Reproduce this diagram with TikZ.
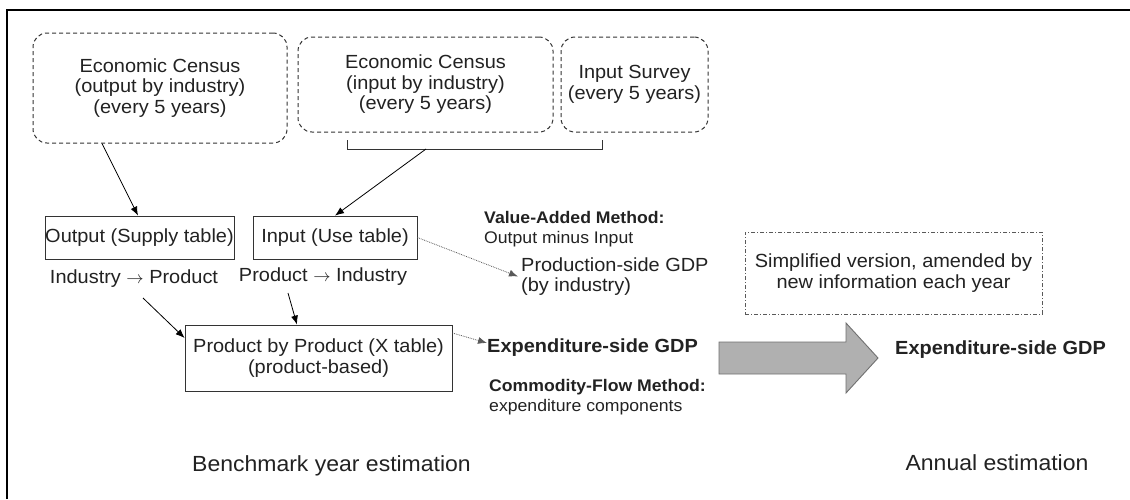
\documentclass[tikz,border=0pt]{standalone}
\usepackage{fontspec}
\setmainfont{Liberation Sans}[FakeStretch=1.05]
\usetikzlibrary{arrows.meta,calc}
\definecolor{txt}{HTML}{222222}
\definecolor{arrowfill}{HTML}{B0B0B0}
\definecolor{arrowline}{HTML}{707070}
\tikzset{
  mainfont/.style={font=\fontsize{19}{20.5}\selectfont},
  smallfont/.style={font=\fontsize{16.8}{20}\selectfont},
  bigfont/.style={font=\fontsize{21.9}{24}\selectfont},
  dbox/.style={draw=black!80, line width=1pt, dash pattern=on 4pt off 3pt,
    rounded corners=14pt, align=center, mainfont, text=txt, inner sep=0pt},
  sbox/.style={draw=black!80, line width=0.8pt, align=center, mainfont, text=txt, inner sep=0pt},
  ddbox/.style={draw=black!65, line width=0.7pt, dash pattern=on 4pt off 2pt on 1pt off 2pt,
    align=center, mainfont, text=txt, inner sep=0pt},
  lbl/.style={mainfont, text=txt, inner sep=0pt},
  arr/.style={draw=black, line width=0.8pt, -{Latex[length=9pt,width=7pt]}},
  darr/.style={draw=black!65, line width=0.8pt, densely dotted, -{Latex[length=9pt,width=7pt]}},
}
\begin{document}
\begin{tikzpicture}[x=1pt,y=-1pt]
\useasboundingbox (0,0) rectangle (1130,499);
\fill[white] (0,0) rectangle (1130,499);
% frame
\draw[line width=1.2pt] (7,499) -- (7,10);
\draw[line width=1.8pt] (6.4,10) -- (1130,10);

% source boxes
\node[dbox, minimum width=254pt, minimum height=110pt] (ec1) at (160,88)
  {Economic Census\\(output by industry)\\(every 5 years)};
\node[dbox, minimum width=255pt, minimum height=95pt] (ec2) at (425.5,84.5)
  {Economic Census\\(input by industry)\\(every 5 years)};
\node[dbox, minimum width=147pt, minimum height=95pt] (isv) at (634.5,84.5)
  {Input Survey\\(every 5 years)};

% bracket
\coordinate (bl) at (347,140);
\coordinate (br) at (602,140);
\coordinate (bm) at (426,149);
\draw[black!80, line width=0.8pt] (bl) -- ++(0,9) -| (br);

% tables
\node[sbox, minimum width=189pt, minimum height=43pt] (out) at (139.5,237.5) {Output (Supply table)};
\node[sbox, minimum width=164pt, minimum height=43pt] (inp) at (335,237.5) {Input (Use table)};
\node[lbl] (i2p) at (134,279) {Industry $\rightarrow$ Product};
\node[lbl] (p2i) at (323,277) {Product $\rightarrow$ Industry};
\node[sbox, minimum width=267pt, minimum height=66pt] (pxp) at (318.5,358)
  {Product by Product (X table)\\(product-based)};

% methods and results
\node[smallfont, text=txt, inner sep=0pt, anchor=west, align=left] (val) at (484,229)
  {\textbf{Value-Added Method:}\\Output minus Input};
\node[lbl, anchor=west, align=left] (pgdp) at (521,276.5)
  {Production-side GDP\\(by industry)};
\node[lbl, anchor=west, font=\fontsize{19}{20.5}\selectfont\bfseries] (egdp) at (487,348)
  {Expenditure-side GDP};
\node[smallfont, text=txt, inner sep=0pt, anchor=west, align=left] (cfm) at (489,397)
  {\textbf{Commodity-Flow Method:}\\expenditure components};

% annual side
\node[ddbox, minimum width=297pt, minimum height=82pt] (simp) at (893.5,273)
  {Simplified version, amended by\\new information each year};
\coordinate (ga1) at (719,342);
\coordinate (ga2) at (846,342);
\coordinate (ga3) at (846,323);
\coordinate (gtip) at (878,358);
\coordinate (ga4) at (846,393);
\coordinate (ga5) at (846,374);
\coordinate (ga6) at (719,374);
\draw[fill=arrowfill, draw=arrowline, line width=0.9pt]
  (ga1) -- (ga2) -- (ga3) -- (gtip) -- (ga4) -- (ga5) -- (ga6) -- cycle;
\node[lbl, font=\fontsize{19}{20.5}\selectfont\bfseries] (egdp2) at (1000.5,350) {Expenditure-side GDP};

% captions
\node[bigfont, text=txt, inner sep=0pt] (bench) at (331.5,466) {Benchmark year estimation};
\node[bigfont, text=txt, inner sep=0pt] (annual) at (997,463) {Annual estimation};

% connectors
\draw[arr] ([xshift=-58pt]ec1.south) -- ([xshift=-1.5pt]out.north);
\draw[arr] (bm) -- (inp.north);
\draw[arr] ([shift={(9,19)}]i2p.center) -- ([yshift=20pt]pxp.west);
\draw[arr] ([shift={(-35,16)}]p2i.center) -- ([xshift=-21.5pt]pxp.north);
\draw[darr] (inp.east) -- ([xshift=-3pt]pgdp.west);
\draw[darr] ([yshift=25pt]pxp.east) -- ([shift={(0,-5)}]egdp.west);
\end{tikzpicture}
\end{document}
